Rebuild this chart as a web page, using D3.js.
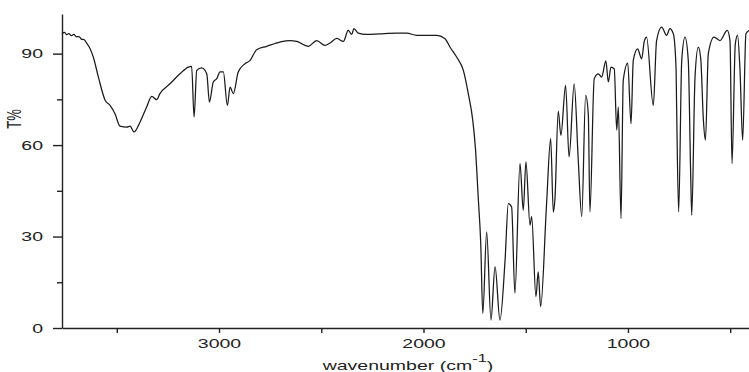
<!DOCTYPE html>
<html>
<head>
<meta charset="utf-8">
<script src="https://cdn.jsdelivr.net/npm/d3@7"></script>
<style>
  body { margin: 0; background: #fff; }
  svg { display: block; }
  .axis text { font-family: "Liberation Sans", Arial, sans-serif; font-size: 13px; fill: #222; }
  .axis path, .axis line { stroke: #222; stroke-width: 1.4px; }
</style>
</head>
<body>
<svg id="chart" width="749" height="372"></svg>
<script>
// IR spectrum, values
const wavenumber = [
  3768, 3755, 3745, 3735, 3722, 3710, 3698, 3685, 3672, 3660, 3648, 3631, 3615, 3590,
  3557, 3533, 3509, 3484, 3451, 3435, 3416, 3386, 3354, 3329, 3305, 3289, 3240, 3191,
  3150, 3134, 3122, 3109, 3085, 3060, 3047, 3028, 3011, 2995, 2979, 2959, 2946, 2930,
  2906, 2873, 2848, 2816, 2767, 2702, 2653, 2620, 2563, 2522, 2482, 2457, 2424, 2392,
  2368, 2351, 2340, 2319, 2278, 2213, 2131, 2082, 2033, 1968, 1935, 1895, 1870, 1838,
  1805, 1781, 1759, 1746, 1732, 1720, 1710, 1691, 1670, 1650, 1626, 1601, 1585, 1569,
  1553, 1528, 1512, 1499, 1479, 1471, 1450, 1439, 1427, 1398, 1378, 1365, 1357, 1341,
  1328, 1305, 1288, 1263, 1243, 1226, 1207, 1194, 1186, 1165, 1145, 1129, 1108, 1096,
  1083, 1067, 1055, 1047, 1034, 1023, 1001, 985, 974, 953, 933, 920, 909, 876,
  860, 835, 811, 795, 778, 765, 762, 752, 737, 721, 705, 693, 688, 672,
  656, 644, 631, 621, 607, 579, 550, 514, 501, 491, 475, 464, 452, 439,
  423, 408
];
const transmittance = [
  96.6, 97.0, 96.2, 96.6, 95.9, 96.3, 95.5, 95.6, 94.7, 94.6, 93.5, 91.7, 88.9, 82.3,
  74.7, 73.0, 70.3, 66.2, 65.9, 66.2, 64.3, 67.6, 72.5, 76.0, 74.9, 76.9, 80.1, 83.4,
  85.6, 85.8, 69.2, 84.5, 85.3, 83.4, 74.1, 80.7, 81.8, 84.0, 84.0, 73.0, 79.0, 76.9,
  84.0, 86.7, 87.8, 91.3, 92.4, 93.8, 94.3, 94.0, 92.4, 94.3, 92.7, 93.5, 95.0, 94.0,
  97.6, 96.3, 98.2, 96.7, 96.3, 96.5, 96.7, 96.7, 96.0, 96.0, 96.0, 94.9, 92.1, 88.9,
  84.5, 76.9, 68.1, 59.0, 42.5, 27.7, 4.8, 31.5, 2.6, 20.1, 2.6, 22.3, 40.8, 39.7,
  11.4, 53.9, 38.6, 54.5, 33.7, 36.5, 10.3, 18.4, 7.0, 40.8, 62.1, 38.0, 42.5, 71.1,
  63.2, 79.6, 56.1, 80.1, 55.0, 36.5, 76.3, 70.3, 38.1, 81.8, 83.4, 82.3, 87.6, 80.7,
  85.6, 85.0, 64.9, 72.5, 35.9, 81.2, 86.9, 67.0, 87.8, 91.6, 88.3, 94.1, 95.4, 73.0,
  94.3, 98.7, 96.0, 98.2, 96.5, 85.6, 72.5, 38.1, 87.8, 95.4, 87.8, 49.6, 37.0, 82.3,
  92.1, 88.3, 68.1, 61.6, 90.0, 95.4, 94.3, 97.6, 94.3, 53.9, 93.2, 96.0, 84.5, 61.6,
  96.5, 97.6
];
const xMajorTicks = [3000, 2000, 1000];
const xMinorTicks = [3500, 2500, 1500, 500];
const yMajorTicks = [0, 30, 60, 90];
const yMinorTicks = [15, 45, 75];

const svg = d3.select("#chart");
const stretch = 1.5; // text in the picture is stretched sideways

const x = d3.scaleLinear().domain([3768, 408]).range([62, 749]);
const y = d3.scaleLinear().domain([0, 103]).range([328, 14]);

// x axis
const gx = svg.append("g")
  .attr("class", "axis")
  .attr("transform", "translate(0,328)");
gx.call(d3.axisBottom(x).tickValues(xMinorTicks).tickFormat("").tickSize(5).tickSizeOuter(0));
gx.append("g")
  .call(d3.axisBottom(x).tickValues(xMajorTicks).tickSize(5).tickSizeOuter(0).tickFormat(d3.format("d")))
  .call(g => g.select(".domain").remove())
  .selectAll("text")
  .attr("y", 11)
  .attr("transform", `scale(${stretch},1)`);

// y axis
const gy = svg.append("g")
  .attr("class", "axis")
  .attr("transform", "translate(62,0)");
gy.call(d3.axisLeft(y).tickValues(yMinorTicks).tickFormat("").tickSize(5).tickSizeOuter(0));
gy.append("g")
  .call(d3.axisLeft(y).tickValues(yMajorTicks).tickSize(9).tickSizeOuter(0))
  .call(g => g.select(".domain").remove())
  .selectAll("text")
  .attr("x", -19 / stretch)
  .attr("transform", `scale(${stretch},1)`);

// spectrum
const points = wavenumber.map((w, i) => [w, transmittance[i]]);
const line = d3.line()
  .x(d => x(d[0]))
  .y(d => y(d[1]))
  .curve(d3.curveMonotoneX);

svg.append("path")
  .datum(points)
  .attr("fill", "none")
  .attr("stroke", "#1a1a1a")
  .attr("stroke-width", 1.25)
  .attr("stroke-linejoin", "round")
  .attr("d", line);

// axis titles
svg.append("text")
  .attr("transform", `translate(21,119) scale(${stretch},1) rotate(-90)`)
  .attr("text-anchor", "middle")
  .style("font-family", "Liberation Sans, Arial, sans-serif")
  .style("font-size", "13px")
  .attr("fill", "#222")
  .text("T%");

const xt = svg.append("text")
  .attr("transform", `translate(408,370) scale(${stretch},1)`)
  .attr("text-anchor", "middle")
  .style("font-family", "Liberation Sans, Arial, sans-serif")
  .style("font-size", "13px")
  .attr("fill", "#222");
xt.append("tspan").text("wavenumber (cm");
xt.append("tspan").attr("dy", -8).style("font-size", "11px").text("-1");
xt.append("tspan").attr("dy", 8).text(")");
</script>
</body>
</html>
